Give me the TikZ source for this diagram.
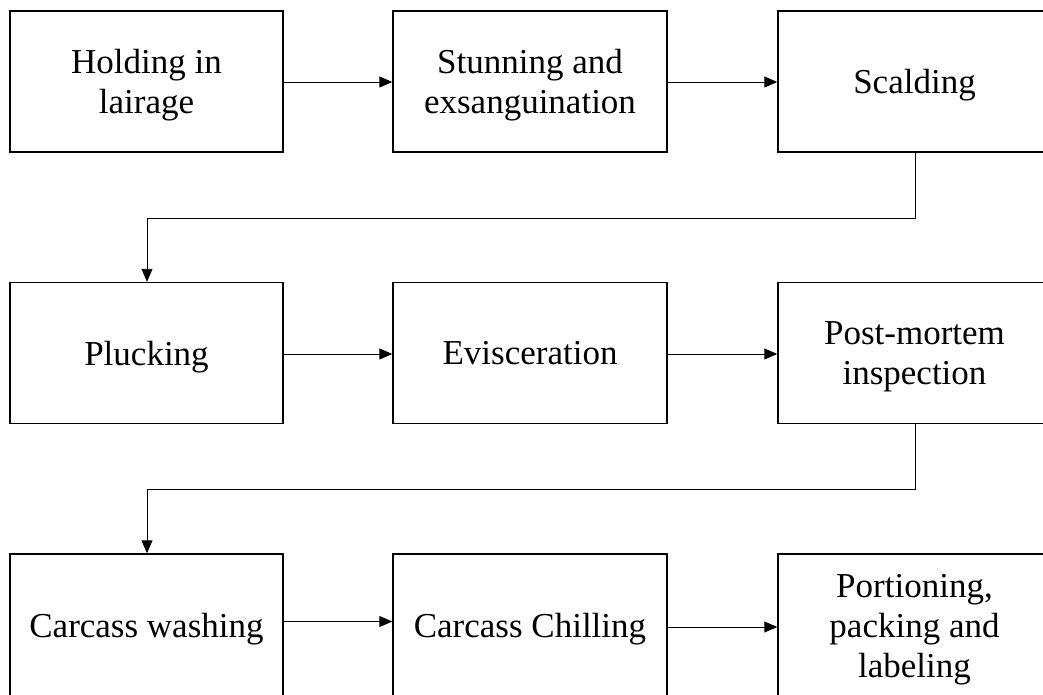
\documentclass[tikz,border=0pt]{standalone}
\usepackage{fontspec}
\setmainfont{Liberation Serif}
\usetikzlibrary{arrows.meta}
\begin{document}
\begin{tikzpicture}[x=1pt,y=-1pt,
  procbox/.style={draw=black,line width=1.4pt,minimum height=141pt,inner sep=0pt,
    text depth=0pt,align=center,font=\fontsize{35}{40}\selectfont},
  conn/.style={draw=black,line width=0.9pt,-{Triangle[length=13pt,width=11pt]}}]
\useasboundingbox (0,0) rectangle (1043,695);
\clip (0,0) rectangle (1043,695);
% row 1
\node[procbox,minimum width=273pt] (b1) at (146.5,81.5) {Holding in\\lairage};
\node[procbox,minimum width=274pt] (b2) at (530,81.5) {Stunning and\\exsanguination};
\node[procbox,minimum width=273pt] (b3) at (914.5,81.5) {Scalding};
% row 2
\node[procbox,minimum width=273pt] (b4) at (146.5,353) {Plucking};
\node[procbox,minimum width=274pt] (b5) at (530,353) {Evisceration};
\node[procbox,minimum width=273pt] (b6) at (914.5,353) {Post-mortem\\inspection};
% row 3
\node[procbox,minimum width=273pt,minimum height=143pt] (b7) at (146.5,625.5) {Carcass washing};
\node[procbox,minimum width=274pt,minimum height=143pt] (b8) at (530,625.5) {Carcass Chilling};
\node[procbox,minimum width=273pt,minimum height=143pt] (b9) at (914.5,625.5) {Portioning,\\packing and\\labeling};
% connectors
\draw[conn] ([yshift=-0.5pt]b1.east) -- ([yshift=-0.5pt]b1.east -| b2.west);
\draw[conn] ([yshift=-0.5pt]b2.east) -- ([yshift=-0.5pt]b2.east -| b3.west);
\coordinate (k1) at (915,218);
\coordinate (k2) at (147,218);
\draw[conn] (b3.south -| k1) -- (k1) -- (k2) -- (k2 |- b4.north);
\draw[conn] ([yshift=-1pt]b4.east) -- ([yshift=-1pt]b4.east -| b5.west);
\draw[conn] ([yshift=-1pt]b5.east) -- ([yshift=-1pt]b5.east -| b6.west);
\coordinate (k3) at (915,489);
\coordinate (k4) at (147,489);
\draw[conn] (b6.south -| k3) -- (k3) -- (k4) -- (k4 |- b7.north);
\draw[conn] ([yshift=4pt]b7.east) -- ([yshift=4pt]b7.east -| b8.west);
\draw[conn] ([yshift=-1.5pt]b8.east) -- ([yshift=-1.5pt]b8.east -| b9.west);
\end{tikzpicture}
\end{document}
